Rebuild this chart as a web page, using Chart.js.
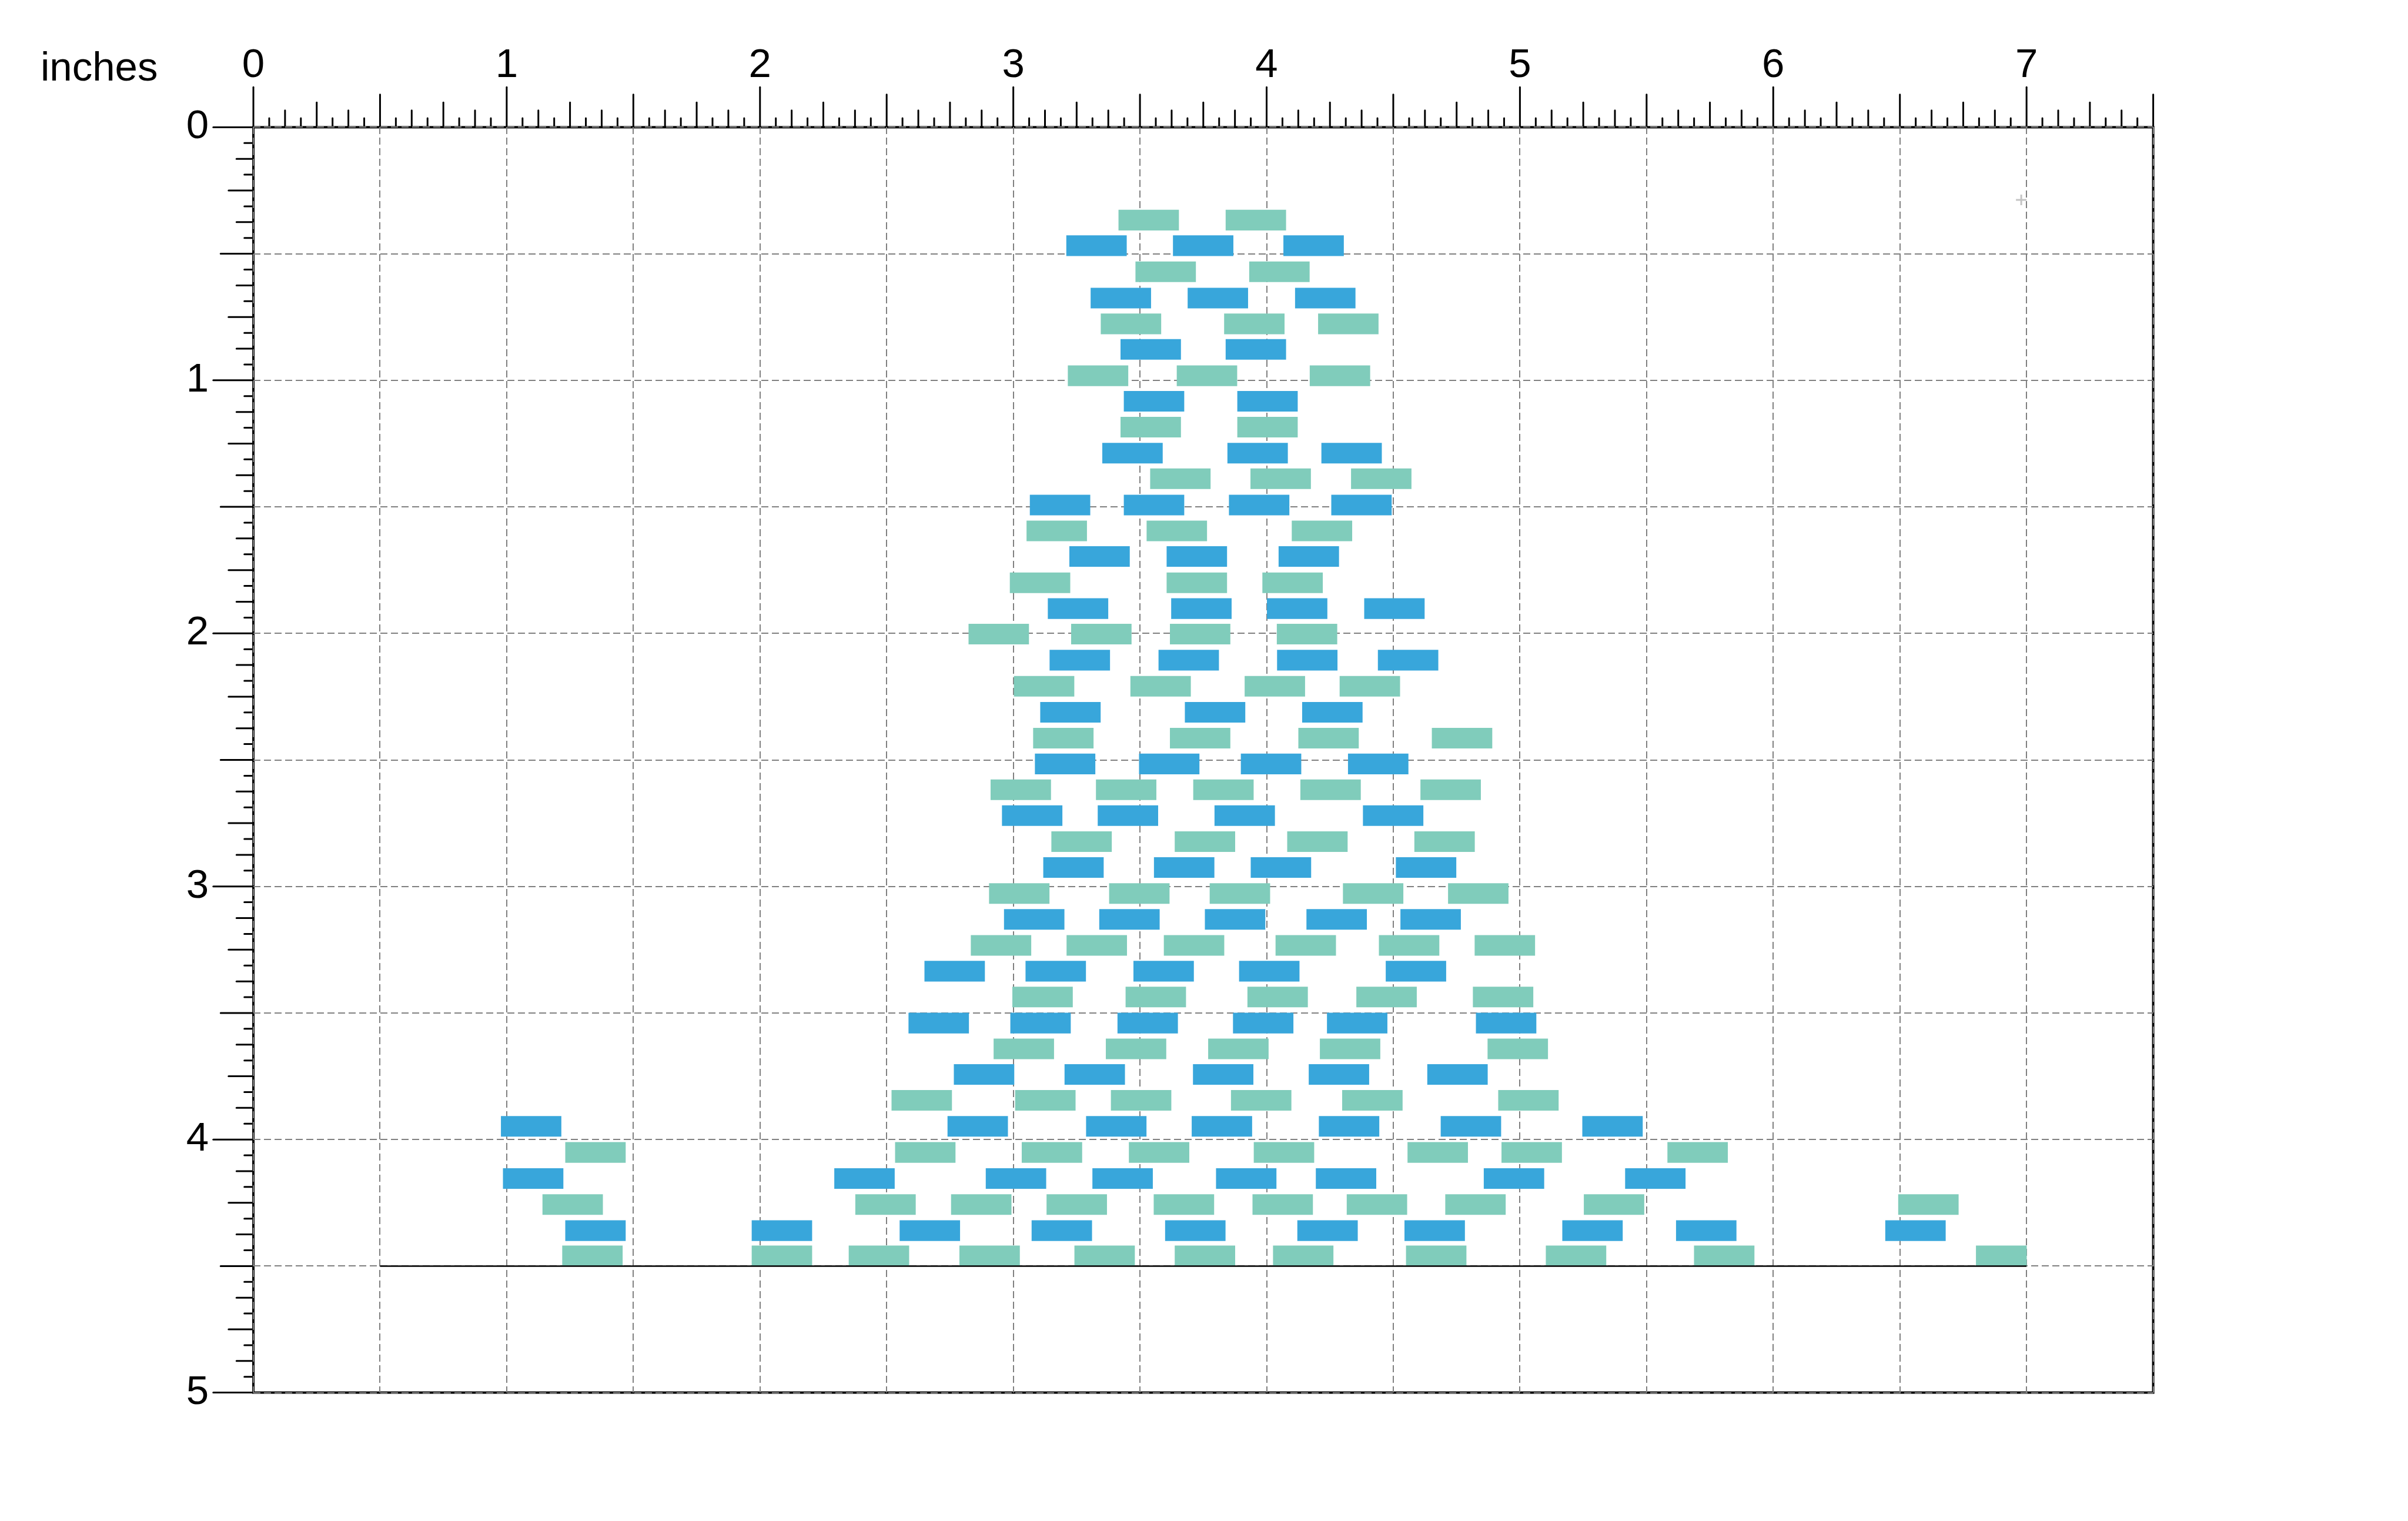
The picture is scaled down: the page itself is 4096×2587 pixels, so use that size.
<!DOCTYPE html>
<html>
<head>
<meta charset="utf-8">
<script src="https://cdn.jsdelivr.net/npm/chart.js@4.4.1/dist/chart.umd.min.js"></script>
<style>
  html, body { margin: 0; padding: 0; background: #ffffff; overflow: hidden; }
  canvas { display: block; }
</style>
</head>
<body>
<canvas id="c" width="4096" height="2587"></canvas>
<script>
// ---------------- DATA (inches) ----------------
const unitLabel = 'inches';
const xLabelValues = [0, 1, 2, 3, 4, 5, 6, 7];
const yLabelValues = [0, 1, 2, 3, 4, 5];

// teal rows: vertical centre of each row and left edges of its bricks
const tealRowY = [0.367, 0.571, 0.777, 0.982, 1.185, 1.389, 1.595, 1.800, 2.003, 2.209, 2.414,
                  2.618, 2.823, 3.028, 3.233, 3.437, 3.642, 3.845, 4.051, 4.257, 4.460];
const tealLefts = [
  [3.416, 3.839],
  [3.483, 3.932],
  [3.346, 3.833, 4.204],
  [3.216, 3.646, 4.171],
  [3.424, 3.885],
  [3.541, 3.937, 4.334],
  [3.053, 3.527, 4.100],
  [2.987, 3.606, 3.984],
  [2.824, 3.229, 3.619, 4.041],
  [3.003, 3.463, 3.914, 4.289],
  [3.079, 3.619, 4.126, 4.653],
  [2.911, 3.327, 3.711, 4.134, 4.608],
  [3.151, 3.638, 4.082, 4.584],
  [2.905, 3.379, 3.776, 4.302, 4.717],
  [2.833, 3.211, 3.595, 4.036, 4.444, 4.822],
  [2.997, 3.444, 3.925, 4.355, 4.815],
  [2.923, 3.366, 3.770, 4.211, 4.873],
  [2.520, 3.008, 3.386, 3.860, 4.299, 4.915],
  [1.232, 2.534, 3.034, 3.457, 3.950, 4.557, 4.928, 5.583],
  [1.142, 2.377, 2.755, 3.132, 3.555, 3.945, 4.317, 4.706, 5.253, 6.494],
  [1.220, 1.968, 2.351, 2.788, 3.242, 3.638, 4.026, 4.551, 5.103, 5.688, 6.801]
];

// blue rows
const blueRowY = [0.468, 0.675, 0.878, 1.083, 1.288, 1.493, 1.696, 1.902, 2.106, 2.312,
                  2.516, 2.720, 2.925, 3.130, 3.335, 3.540, 3.743, 3.948, 4.154, 4.360];
const blueLefts = [
  [3.210, 3.631, 4.067],
  [3.306, 3.689, 4.113],
  [3.424, 3.839],
  [3.437, 3.885],
  [3.352, 3.846, 4.217],
  [3.066, 3.437, 3.852, 4.256],
  [3.222, 3.606, 4.048],
  [3.137, 3.624, 4.002, 4.386],
  [3.144, 3.574, 4.042, 4.440],
  [3.107, 3.678, 4.141],
  [3.086, 3.497, 3.899, 4.322],
  [2.956, 3.334, 3.795, 4.381],
  [3.119, 3.556, 3.938, 4.511],
  [2.964, 3.340, 3.757, 4.158, 4.529],
  [2.650, 3.049, 3.475, 3.892, 4.471],
  [2.587, 2.989, 3.412, 3.868, 4.239, 4.827],
  [2.766, 3.203, 3.710, 4.167, 4.635],
  [0.978, 2.741, 3.288, 3.705, 4.207, 4.688, 5.247],
  [0.986, 2.294, 2.892, 3.313, 3.801, 4.195, 4.858, 5.416],
  [1.232, 1.968, 2.552, 3.073, 3.600, 4.122, 4.545, 5.168, 5.617, 6.443]
];

// floor line and the small cross marker
const baselineX = [0.5, 7.0];
const baselineY = 4.5;
const markerPoint = [6.979, 0.287];

// ---------------- SIZES / STYLES ----------------
const BRICK_W = 0.237;      // brick length, inches
const BRICK_H = 0.080;      // brick height, inches
const X_MIN = 0, X_MAX = 7.5, Y_MIN = 0, Y_MAX = 5;

const W = 4096, H = 2587;
const LEFT_W = 431.0;
const TOP_H = 216.4;
const PLOT_R = 3662.6;
const PLOT_B = 2368.6;
const PX_PER_IN_Y = (PLOT_B - TOP_H) / (Y_MAX - Y_MIN);

const TEAL = '#80ccbb';
const BLUE = '#38a6db';
const GRID = '#808080';
const FONT = '"Liberation Sans", Arial, sans-serif';
const FONT_SIZE = 69;

function bricks(rowsY, lefts) {
  const out = [];
  rowsY.forEach((y, r) => {
    lefts[r].forEach(l => {
      out.push({ y: y, x: [l, Math.min(l + BRICK_W, baselineX[1])] });
    });
  });
  return out;
}

function tickLen(i) {
  if (i % 16 === 0) return 68.2;
  if (i % 8 === 0) return 55.7;
  if (i % 4 === 0) return 42.2;
  if (i % 2 === 0) return 28.7;
  return 15.3;
}

const frameTicks = {
  id: 'frameTicks',
  beforeDraw(chart) {
    const { ctx, chartArea: a } = chart;
    const xs = chart.scales.x, ys = chart.scales.y;
    ctx.save();
    ctx.fillStyle = '#ffffff';
    ctx.fillRect(0, 0, chart.width, chart.height);
    // black frame
    ctx.strokeStyle = '#000000';
    ctx.lineWidth = 4;
    ctx.strokeRect(a.left, a.top, a.right - a.left, a.bottom - a.top);
    // ruler ticks (1/16 inch)
    ctx.lineCap = 'round';
    ctx.lineWidth = 3;
    const nx = Math.round((X_MAX - X_MIN) * 16);
    for (let i = 0; i <= nx; i++) {
      const px = xs.getPixelForValue(X_MIN + i / 16);
      ctx.beginPath();
      ctx.moveTo(px, a.top);
      ctx.lineTo(px, a.top - tickLen(i));
      ctx.stroke();
    }
    const ny = Math.round((Y_MAX - Y_MIN) * 16);
    for (let i = 0; i <= ny; i++) {
      const py = ys.getPixelForValue(Y_MIN + i / 16);
      ctx.beginPath();
      ctx.moveTo(a.left, py);
      ctx.lineTo(a.left - tickLen(i), py);
      ctx.stroke();
    }
    // unit label
    ctx.fillStyle = '#000000';
    ctx.font = FONT_SIZE + 'px ' + FONT;
    ctx.textAlign = 'left';
    ctx.textBaseline = 'alphabetic';
    ctx.fillText(unitLabel, 69, 136.8);
    ctx.restore();
  }
};

const tickFont = { family: FONT, size: FONT_SIZE, lineHeight: 1.2 };

new Chart(document.getElementById('c'), {
  type: 'bar',
  data: {
    datasets: [
      {
        type: 'line',
        data: baselineX.map(x => ({ x: x, y: baselineY })),
        borderColor: '#000000',
        borderWidth: 2.5,
        pointRadius: 0,
        fill: false,
        tension: 0
      },
      {
        type: 'scatter',
        data: [{ x: markerPoint[0], y: markerPoint[1] }],
        pointStyle: 'cross',
        pointRadius: 9,
        borderColor: '#c4c4c4',
        backgroundColor: '#c4c4c4',
        borderWidth: 3
      },
      {
        type: 'bar',
        indexAxis: 'y',
        data: bricks(tealRowY, tealLefts),
        backgroundColor: TEAL,
        borderWidth: 0,
        grouped: false,
        barThickness: BRICK_H * PX_PER_IN_Y
      },
      {
        type: 'bar',
        indexAxis: 'y',
        data: bricks(blueRowY, blueLefts),
        backgroundColor: BLUE,
        borderWidth: 0,
        grouped: false,
        barThickness: BRICK_H * PX_PER_IN_Y
      }
    ]
  },
  options: {
    responsive: false,
    animation: false,
    devicePixelRatio: 1,
    layout: { padding: { left: 0, top: 0, right: W - PLOT_R, bottom: H - PLOT_B } },
    plugins: { legend: { display: false }, tooltip: { enabled: false } },
    scales: {
      x: {
        type: 'linear',
        position: 'top',
        offset: false,
        min: X_MIN, max: X_MAX,
        afterFit(s) { s.height = TOP_H; },
        ticks: {
          stepSize: 0.5, autoSkip: false, maxRotation: 0, minRotation: 0,
          padding: 63, color: '#000000', font: tickFont,
          callback: v => (xLabelValues.includes(v) ? String(v) : '')
        },
        grid: { color: GRID, lineWidth: 2, drawTicks: false, offset: false },
        border: { display: false, dash: [12, 6] }
      },
      y: {
        type: 'linear',
        position: 'left',
        reverse: true,
        offset: false,
        min: Y_MIN, max: Y_MAX,
        afterFit(s) { s.width = LEFT_W; },
        ticks: {
          stepSize: 0.5, autoSkip: false,
          padding: 76, color: '#000000', font: tickFont,
          callback: v => (yLabelValues.includes(v) ? String(v) : '')
        },
        grid: { color: GRID, lineWidth: 2, drawTicks: false, offset: false },
        border: { display: false, dash: [12, 6] }
      }
    }
  },
  plugins: [frameTicks]
});
</script>
</body>
</html>
